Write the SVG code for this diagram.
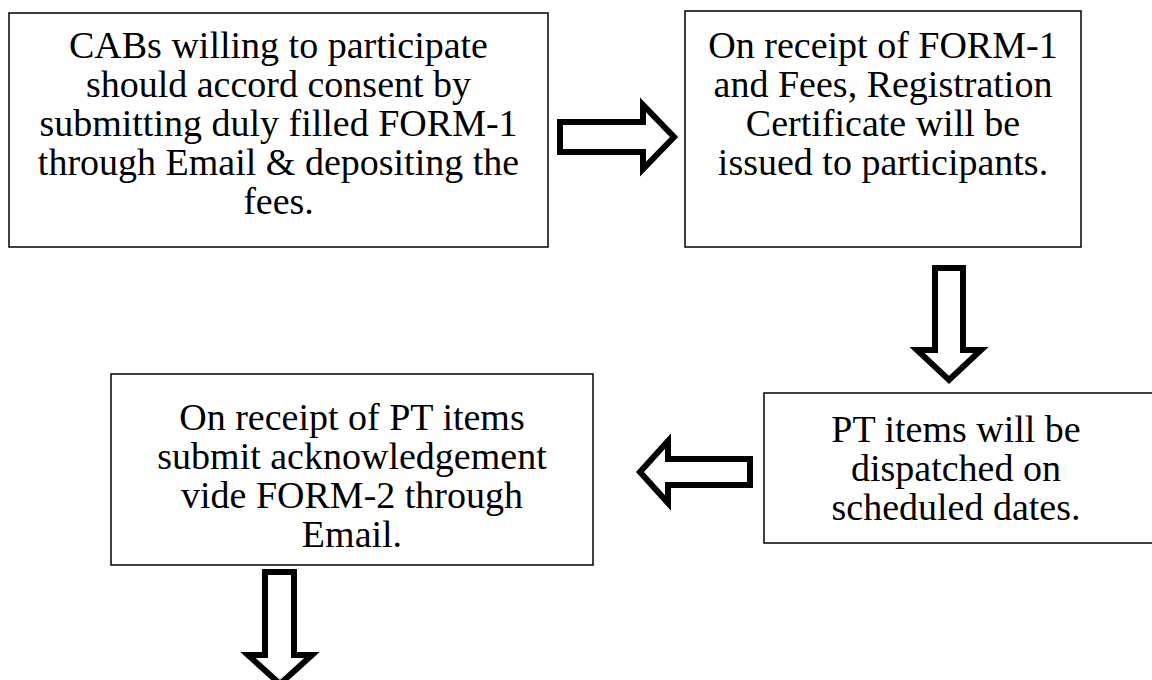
<svg xmlns="http://www.w3.org/2000/svg" width="1152" height="680" viewBox="0 0 1152 680">
  <style>
    .box { fill: #ffffff; stroke: #000000; stroke-width: 1.5; }
    .lbl { font-family: "Liberation Serif", "Times New Roman", serif; font-size: 38px; fill: #000000; text-anchor: middle; }
    .arrow { fill: #ffffff; stroke: #000000; stroke-width: 6; stroke-linejoin: miter; stroke-miterlimit: 10; }
  </style>
  <rect width="1152" height="680" fill="#ffffff"/>

  <g id="node-register">
    <rect class="box" x="9" y="13" width="539" height="234"/>
    <text class="lbl" x="278.5" y="58">CABs willing to participate</text>
    <text class="lbl" x="278.5" y="97">should accord consent by</text>
    <text class="lbl" x="278.5" y="136">submitting duly filled FORM-1</text>
    <text class="lbl" x="278.5" y="175">through Email &amp; depositing the</text>
    <text class="lbl" x="278.5" y="214">fees.</text>
  </g>

  <g id="node-certificate">
    <rect class="box" x="685" y="11" width="396" height="236"/>
    <text class="lbl" x="883" y="58">On receipt of FORM-1</text>
    <text class="lbl" x="883" y="97">and Fees, Registration</text>
    <text class="lbl" x="883" y="136">Certificate will be</text>
    <text class="lbl" x="883" y="175">issued to participants.</text>
  </g>

  <g id="node-dispatch">
    <rect class="box" x="764" y="393" width="400" height="150"/>
    <text class="lbl" x="956" y="442">PT items will be</text>
    <text class="lbl" x="956" y="481">dispatched on</text>
    <text class="lbl" x="956" y="520">scheduled dates.</text>
  </g>

  <g id="node-acknowledge">
    <rect class="box" x="111" y="374" width="482" height="191"/>
    <text class="lbl" x="352" y="430">On receipt of PT items</text>
    <text class="lbl" x="352" y="469">submit acknowledgement</text>
    <text class="lbl" x="352" y="508">vide FORM-2 through</text>
    <text class="lbl" x="352" y="547">Email.</text>
  </g>

  <g id="connectors">
    <path class="arrow" d="M560,122 L643,122 L643,105 L674,137 L643,169 L643,152 L560,152 Z"/>
    <path class="arrow" d="M935,268 L963,268 L963,350 L981,350 L949,380 L917,350 L935,350 Z"/>
    <path class="arrow" d="M750,459 L668,459 L668,441 L640,472 L668,503 L668,485 L750,485 Z"/>
    <path class="arrow" d="M265,572 L294,572 L294,655 L312,655 L280,684 L248,655 L265,655 Z"/>
  </g>
</svg>
